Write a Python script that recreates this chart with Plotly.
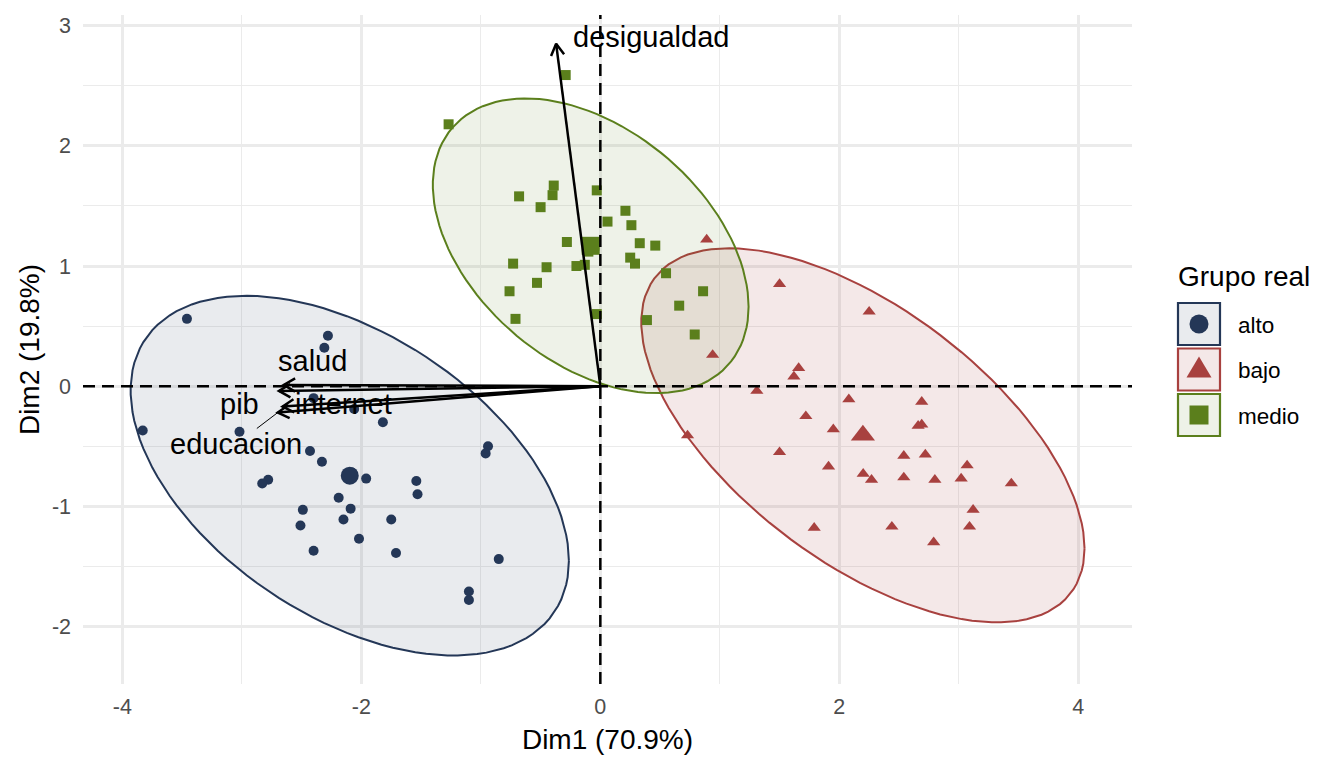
import numpy as np
import plotly.graph_objects as go

# --- individuos (coordenadas en Dim1 / Dim2), por grupo real ---
# (algunos puntos quedan tapados por el punto medio del grupo)
alto_x = [-3.46, -2.28, -2.31, -2.40, -2.06, -1.82, -3.83, -3.02, -2.43, -2.33,
          -0.94, -0.96, -1.96, -2.78, -2.83, -1.54, -1.53, -2.19, -2.09, -2.49,
          -2.15, -1.75, -2.51, -2.02, -2.40, -1.71, -0.85, -1.10, -1.10, -2.08]
alto_y = [0.56, 0.42, 0.32, -0.10, -0.19, -0.30, -0.37, -0.38, -0.54, -0.63,
          -0.50, -0.56, -0.77, -0.78, -0.81, -0.79, -0.90, -0.93, -1.02, -1.03,
          -1.11, -1.11, -1.16, -1.27, -1.37, -1.39, -1.44, -1.71, -1.78, -0.72]

bajo_x = [0.89, 1.50, 2.25, 0.94, 1.66, 1.62, 1.31, 2.08, 2.69, 1.72,
          1.95, 2.69, 2.66, 0.73, 1.50, 2.54, 2.72, 1.91, 3.07, 2.20,
          2.27, 2.54, 2.80, 3.02, 3.44, 3.12, 1.79, 2.44, 3.09, 2.79]
bajo_y = [1.22, 0.85, 0.62, 0.26, 0.15, 0.08, -0.04, -0.11, -0.13, -0.25,
          -0.36, -0.32, -0.33, -0.41, -0.55, -0.58, -0.57, -0.67, -0.66, -0.73,
          -0.78, -0.76, -0.78, -0.77, -0.81, -1.03, -1.18, -1.17, -1.17, -1.30]

medio_x = [-0.29, -1.27, -0.39, -0.40, -0.68, -0.03, -0.50, 0.21, 0.06, 0.26,
           -0.28, 0.33, 0.46, -0.73, -0.45, -0.20, -0.13, 0.25, 0.29, 0.55,
           -0.53, -0.76, 0.86, 0.66, -0.71, 0.39, 0.79, -0.03, -0.05, -0.10]
medio_y = [2.59, 2.18, 1.67, 1.59, 1.58, 1.63, 1.49, 1.46, 1.37, 1.34,
           1.20, 1.19, 1.17, 1.02, 0.99, 1.00, 1.01, 1.07, 1.02, 0.94,
           0.86, 0.79, 0.79, 0.67, 0.56, 0.55, 0.43, 0.60, 1.17, 1.12]

# --- variables (flechas) ---
var_names = ["desigualdad", "salud", "pib", "internet", "educacion"]
var_x = [-0.37, -2.65, -2.69, -2.66, -2.70]
var_y = [2.85, 0.01, -0.04, -0.17, -0.22]
lab_x = [0.42, -2.41, -3.02, -2.15, -3.05]
lab_y = [2.91, 0.21, -0.15, -0.15, -0.485]
repelled = [False, False, False, False, True]

# --- ticks ---
x_ticks = [-4, -2, 0, 2, 4]
x_labels = ["-4", "-2", "0", "2", "4"]
y_ticks = [-2, -1, 0, 1, 2, 3]
y_labels = ["-2", "-1", "0", "1", "2", "3"]

groups = ["alto", "bajo", "medio"]
colors = {"alto": "#243757", "bajo": "#A8413F", "medio": "#5B7F1C"}
fills = {"alto": "rgba(36,55,87,0.10)", "bajo": "rgba(168,65,63,0.12)", "medio": "rgba(91,127,28,0.10)"}
symbols = {"alto": "circle", "bajo": "triangle-up", "medio": "square"}
sizes = {"alto": 10, "bajo": 11.5, "medio": 10}
big_sizes = {"alto": 18, "bajo": 21, "medio": 18}
data = {"alto": (alto_x, alto_y), "bajo": (bajo_x, bajo_y), "medio": (medio_x, medio_y)}

FONT = "Liberation Sans, Arial, Helvetica, sans-serif"


def norm_ellipse(xs, ys, level=0.95, npts=120):
    # como stat_ellipse(type = "norm")
    pts = np.column_stack([xs, ys])
    center = pts.mean(axis=0)
    cov = np.cov(pts.T)
    m = len(xs) - 1
    q = (m / 2) * ((1 - level) ** (-2 / m) - 1)  # qf(level, 2, m)
    r = np.sqrt(2 * q)
    chol = np.linalg.cholesky(cov)
    t = np.linspace(0, 2 * np.pi, npts)
    circ = np.column_stack([np.cos(t), np.sin(t)])
    e = center + r * circ @ chol.T
    return e[:, 0], e[:, 1]


fig = go.Figure()

for g in groups:
    ex, ey = norm_ellipse(*data[g])
    fig.add_trace(go.Scatter(x=ex, y=ey, mode="lines", fill="toself", fillcolor=fills[g],
                             line=dict(color=colors[g], width=2), showlegend=False, hoverinfo="skip"))

for g in groups:
    xs, ys = data[g]
    fig.add_trace(go.Scatter(x=xs, y=ys, mode="markers", name=g, showlegend=False,
                             marker=dict(symbol=symbols[g], size=sizes[g], color=colors[g])))
    fig.add_trace(go.Scatter(x=[np.mean(xs)], y=[np.mean(ys)], mode="markers", showlegend=False,
                             marker=dict(symbol=symbols[g], size=big_sizes[g], color=colors[g]),
                             hoverinfo="skip"))

# ejes punteados
fig.add_hline(y=0, line=dict(color="black", width=2.5, dash="12px,7px"))
fig.add_vline(x=0, line=dict(color="black", width=2.5, dash="12px,7px"))

# flechas con punta abierta
head_len, head_ang = 0.11, np.radians(30)
ax_, ay_ = [], []
for vx, vy in zip(var_x, var_y):
    ang = np.arctan2(vy, vx)
    h1 = (vx - head_len * np.cos(ang - head_ang), vy - head_len * np.sin(ang - head_ang))
    h2 = (vx - head_len * np.cos(ang + head_ang), vy - head_len * np.sin(ang + head_ang))
    ax_ += [0, vx, None, h1[0], vx, h2[0], None]
    ay_ += [0, vy, None, h1[1], vy, h2[1], None]
fig.add_trace(go.Scatter(x=ax_, y=ay_, mode="lines", line=dict(color="black", width=2.5),
                         showlegend=False, hoverinfo="skip"))

# segmento de ggrepel
sx, sy = [], []
for vx, vy, lx, ly, rep in zip(var_x, var_y, lab_x, lab_y, repelled):
    if rep:
        sx += [vx, vx + 0.5 * (lx - vx), None]
        sy += [vy, vy + 0.5 * (ly - vy), None]
fig.add_trace(go.Scatter(x=sx, y=sy, mode="lines", line=dict(color="black", width=1),
                         showlegend=False, hoverinfo="skip"))

for name, lx, ly in zip(var_names, lab_x, lab_y):
    fig.add_annotation(x=lx, y=ly, text=name, showarrow=False, xanchor="center", yanchor="middle",
                       font=dict(family=FONT, size=29, color="black"))

# --- geometria: posiciones en pixeles de la pagina (el body tiene 8px de margen) ---
OFF = 8
W, H = 1344 - 2 * OFF, 768 - 2 * OFF
PL, PR, PT, PB = 83, 1132, 15, 684  # panel en la pagina


def pxx(px):
    return (px - PL) / (PR - PL)


def pxy(py):
    return (PB - py) / (PB - PT)


# --- leyenda manual (estilo ggplot) ---
fig.add_annotation(x=pxx(1176), y=pxy(276), xref="paper", yref="paper", text="Grupo real",
                   showarrow=False, xanchor="left", yanchor="middle",
                   font=dict(family=FONT, size=28, color="black"))
key_top = [302, 347.5, 393]
key_h, key_w, key_left = 44, 44, 1177
for g, top in zip(groups, key_top):
    cx, cy = key_left + key_w / 2, top + key_h / 2
    fig.add_shape(type="rect", xref="paper", yref="paper", x0=pxx(key_left + 1), x1=pxx(key_left + key_w - 1),
                  y0=pxy(top + key_h - 1), y1=pxy(top + 1), fillcolor=fills[g],
                  line=dict(color=colors[g], width=2.2))
    if g == "alto":
        fig.add_shape(type="circle", xref="paper", yref="paper", xsizemode="pixel", ysizemode="pixel",
                      xanchor=pxx(cx), yanchor=pxy(cy), x0=-9.5, x1=9.5, y0=-9.5, y1=9.5,
                      fillcolor=colors[g], line=dict(width=0))
    elif g == "bajo":
        fig.add_shape(type="path", xref="paper", yref="paper", xsizemode="pixel", ysizemode="pixel",
                      xanchor=pxx(cx), yanchor=pxy(cy), path="M -12.5,-8 L 12.5,-8 L 0,13 Z",
                      fillcolor=colors[g], line=dict(width=0))
    else:
        fig.add_shape(type="rect", xref="paper", yref="paper", xsizemode="pixel", ysizemode="pixel",
                      xanchor=pxx(cx), yanchor=pxy(cy), x0=-9.5, x1=9.5, y0=-9.5, y1=9.5,
                      fillcolor=colors[g], line=dict(width=0))
    fig.add_annotation(x=pxx(1236), y=pxy(cy + 1), xref="paper", yref="paper", text=g,
                       showarrow=False, xanchor="left", yanchor="middle",
                       font=dict(family=FONT, size=22.5, color="black"))

grid = "#EBEBEB"
fig.update_layout(
    width=W, height=H,
    margin=dict(l=PL - OFF, r=W + OFF - PR, t=PT - OFF, b=H + OFF - PB, autoexpand=False),
    plot_bgcolor="white", paper_bgcolor="white",
    font=dict(family=FONT, color="#4D4D4D"),
    showlegend=False,
    xaxis=dict(range=[-4.33, 4.45], tickvals=x_ticks, ticktext=x_labels, showgrid=True,
               gridcolor=grid, gridwidth=2.6, automargin=False,
               zeroline=False, showline=False, ticks="", ticklabelstandoff=7,
               tickfont=dict(size=21.5, color="#4D4D4D"),
               minor=dict(dtick=1, tick0=0, showgrid=True, gridcolor=grid, gridwidth=1.3),
               title=dict(text="Dim1 (70.9%)", font=dict(size=28, color="black"), standoff=11)),
    yaxis=dict(range=[-2.48, 3.09], tickvals=y_ticks, ticktext=y_labels, showgrid=True,
               gridcolor=grid, gridwidth=2.6, automargin=False,
               zeroline=False, showline=False, ticks="", ticklabelstandoff=11,
               tickfont=dict(size=21.5, color="#4D4D4D"),
               minor=dict(dtick=0.5, tick0=0, showgrid=True, gridcolor=grid, gridwidth=1.3),
               title=dict(text="Dim2 (19.8%)", font=dict(size=28, color="black"), standoff=4)),
)

fig.write_html("out.html")
